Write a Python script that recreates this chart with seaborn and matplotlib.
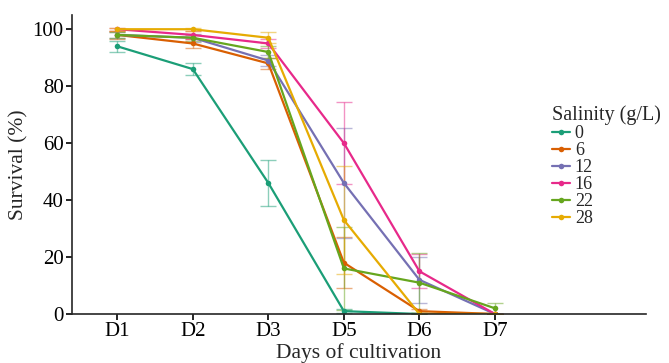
import pandas as pd
import matplotlib.pyplot as plt
import numpy as np
import seaborn as sns

# Survival data (mean and error per salinity)
days = ['D1', 'D2', 'D3', 'D5', 'D6', 'D7']
salinity = ['0', '6', '12', '16', '22', '28']

surv_0 = [94, 86, 46, 1, 0, 0]
surv_6 = [98, 95, 88, 18, 1, 0]
surv_12 = [98, 97, 89, 46, 12, 0]
surv_16 = [100, 98, 95, 60, 15, 0]
surv_22 = [98, 97, 92, 16, 11, 2]
surv_28 = [100, 100, 97, 33, 0, 0]

err_0 = [2, 2, 8, 0.8, 0, 0]
err_6 = [1.5, 1.5, 2, 9, 0.6, 0]
err_12 = [1, 1.5, 2, 19.3, 8, 0]
err_16 = [0.5, 1.5, 1.5, 14.4, 6, 0]
err_22 = [1, 1, 2, 14.5, 10.5, 2]
err_28 = [0.5, 0.5, 2, 19, 0.5, 0]

means = [surv_0, surv_6, surv_12, surv_16, surv_22, surv_28]
errs = [err_0, err_6, err_12, err_16, err_22, err_28]

df = pd.DataFrame({
    'Day': days * len(salinity),
    'Salinity (g/L)': np.repeat(salinity, len(days)),
    'Survival': np.concatenate(means),
    'Err': np.concatenate(errs),
})

sns.set_style('ticks')
plt.rcParams['font.family'] = ['Liberation Serif', 'DejaVu Serif']

colors = sns.color_palette('Dark2', len(salinity))

fig, ax = plt.subplots(figsize=(6.69, 3.63), dpi=100)
fig.subplots_adjust(left=0.1076, right=0.9656, bottom=0.135, top=0.9587)

# error bars first, faded, behind the lines
x_pos = np.arange(len(days))
for s, m, e, c in zip(salinity, means, errs, colors):
    ax.errorbar(x_pos, m, yerr=e, fmt='none', ecolor=c, alpha=0.5,
                elinewidth=1, capsize=6, capthick=1, zorder=1)

sns.lineplot(data=df, x='Day', y='Survival', hue='Salinity (g/L)',
             palette=colors, marker='o', markersize=4, markeredgewidth=0,
             linewidth=1.6, ax=ax, sort=False, zorder=2)

ax.set_xlim(-0.6, 7.0)
ax.set_ylim(0, 105)
ax.set_yticks([0, 20, 40, 60, 80, 100])
ax.set_xlabel('Days of cultivation', fontsize=15.5, labelpad=1)
ax.set_ylabel('Survival (%)', fontsize=15.5, labelpad=3)
ax.tick_params(labelsize=15, length=4, width=1.2, colors='black', pad=2)
ax.spines['left'].set_linewidth(1.2)
ax.spines['bottom'].set_linewidth(1.2)
sns.despine(ax=ax)

leg = ax.legend(title='Salinity (g/L)', loc='upper left',
                bbox_to_anchor=(0.812, 0.735), bbox_transform=fig.transFigure,
                frameon=False, fontsize=13, title_fontsize=14.5,
                handlelength=1.0, handletextpad=0.25, labelspacing=0.0,
                borderpad=0, alignment='left')

plt.savefig('out.png', dpi=100)
